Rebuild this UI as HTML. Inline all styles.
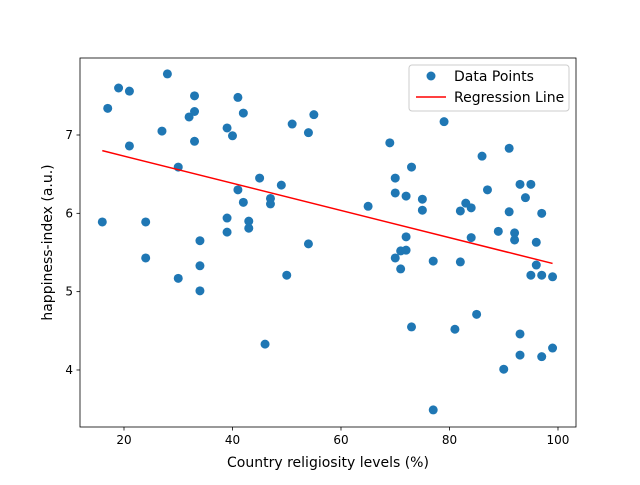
<!DOCTYPE html>
<html><head><meta charset="utf-8"><style>
body{margin:0;background:#fff;}
svg{font-family:"DejaVu Sans","Liberation Sans",sans-serif;}
</style></head><body>
<svg id="chart" width="640" height="480" viewBox="0 0 640 480">
<rect width="640" height="480" fill="#fff"/>
<g id="marks"></g>
<g id="axes"></g>
</svg>
<script>
const xVals=[16,17,19,21,21,24,24,27,28,30,30,32,33,33,33,34,34,34,39,40,39,39,41,41,42,42,43,43,45,46,47,47,49,50,51,54,54,55,65,69,70,70,70,71,71,72,72,72,73,73,75,75,77,77,79,81,82,82,83,84,84,85,86,87,89,90,91,91,92,92,93,93,93,94,95,95,96,96,97,97,97,99,99];
const yVals=[5.89,7.34,7.6,7.56,6.86,5.89,5.43,7.05,7.78,6.59,5.17,7.23,7.5,7.3,6.92,5.65,5.33,5.01,7.09,6.99,5.94,5.76,7.48,6.30,7.28,6.14,5.9,5.81,6.45,4.33,6.19,6.12,6.36,5.21,7.14,7.03,5.61,7.26,6.09,6.9,6.45,6.26,5.43,5.52,5.29,6.22,5.70,5.53,6.59,4.55,6.18,6.04,5.39,3.49,7.17,4.52,6.03,5.38,6.13,6.07,5.69,4.71,6.73,6.30,5.77,4.01,6.83,6.02,5.75,5.66,6.37,4.46,4.19,6.20,6.37,5.21,5.63,5.34,6.0,5.21,4.17,5.19,4.28];
const lineX=[16,99];
const lineY=[6.80,5.36];
const xTicks=[20,40,60,80,100];
const yTicks=[4,5,6,7];
const L=80,R=576,T=58,B=427;
const xmin=11.89,xmax=103.32,ymin=3.272,ymax=7.983;
const sx=v=>L+(v-xmin)/(xmax-xmin)*(R-L);
const sy=v=>B-(v-ymin)/(ymax-ymin)*(B-T);
const NS="http://www.w3.org/2000/svg";
const marks=document.getElementById('marks'),axes=document.getElementById('axes');
function mk(tag,attrs,parent){const e=document.createElementNS(NS,tag);for(const k in attrs)e.setAttribute(k,attrs[k]);parent.appendChild(e);return e;}
xVals.forEach((x,i)=>{
 const c=mk('circle',{cx:sx(x),cy:sy(yVals[i]),r:4.5,fill:'#1f77b4'},marks);
 
 
});
const ln=mk('line',{x1:sx(lineX[0]),y1:sy(lineY[0]),x2:sx(lineX[1]),y2:sy(lineY[1]),stroke:'#ff0000','stroke-width':1.5},marks);


const fr=mk('rect',{x:L,y:T,width:R-L,height:B-T,fill:'none',stroke:'#000','stroke-width':0.8},axes);


xTicks.forEach(t=>{
 const x=sx(t);
 mk('line',{x1:x,y1:B,x2:x,y2:B+3.5,stroke:'#000','stroke-width':0.8},axes);
 const tx=mk('text',{x:x,y:B+17,'text-anchor':'middle','font-size':12,fill:'#000'},axes);
 tx.textContent=t;
 
 
});
yTicks.forEach(t=>{
 const y=sy(t);
 mk('line',{x1:L,y1:y,x2:L-3.5,y2:y,stroke:'#000','stroke-width':0.8},axes);
 const tx=mk('text',{x:L-7,y:y+4,'text-anchor':'end','font-size':12,fill:'#000'},axes);
 tx.textContent=t;
 
 
});
const xt=mk('text',{x:(L+R)/2,y:467,'text-anchor':'middle','font-size':14,fill:'#000'},axes);
xt.textContent='Country religiosity levels (%)';


const yt=mk('text',{x:0,y:0,'text-anchor':'middle','font-size':14,fill:'#000',transform:`translate(52,${(T+B)/2}) rotate(-90)`},axes);
yt.textContent='happiness-index (a.u.)';


const lg=mk('g',{},axes);


mk('rect',{x:409,y:65,width:160,height:46,rx:3,fill:'#fff','fill-opacity':0.8,stroke:'#ccc'},lg);
mk('circle',{cx:431,cy:76,r:4.5,fill:'#1f77b4'},lg);
const l1=mk('text',{x:454,y:81,'font-size':14,fill:'#000'},lg);
l1.textContent='Data Points';


mk('line',{x1:416,y1:97,x2:446,y2:97,stroke:'#ff0000','stroke-width':1.5},lg);
const l2=mk('text',{x:454,y:102,'font-size':14,fill:'#000'},lg);
l2.textContent='Regression Line';


</script>
</body></html>
